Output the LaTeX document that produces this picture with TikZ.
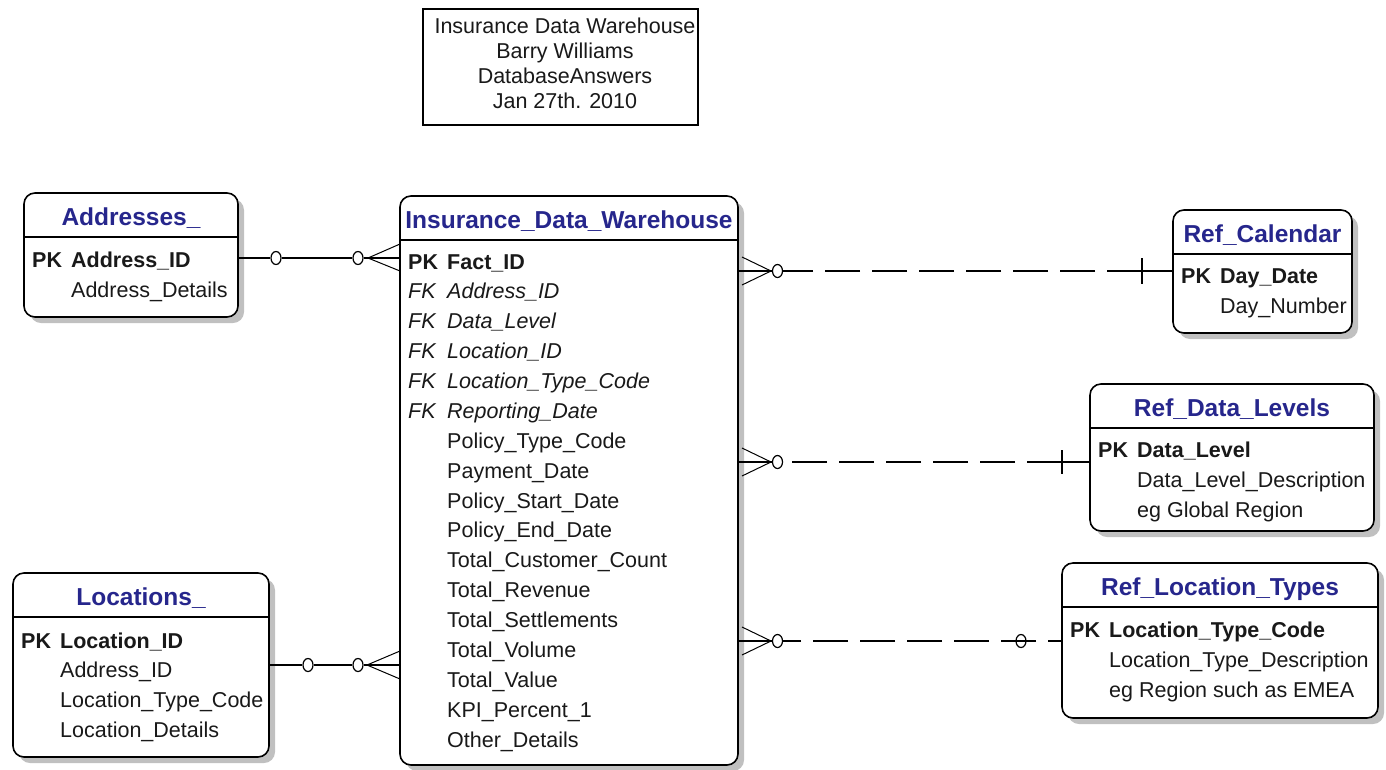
\documentclass[tikz,border=0pt]{standalone}
\usepackage{fontspec}
\setmainfont{Liberation Sans}
\usetikzlibrary{shadows,shapes.geometric,calc}
\definecolor{ttlc}{RGB}{38,38,140}
\definecolor{txtc}{RGB}{25,25,25}
\definecolor{shc}{RGB}{192,192,192}
\newcommand\fs{\fontsize{21.5}{25}\selectfont}
\newcommand\erbox[6]{%
  \node[entbox, minimum width={(#3-#2)*1pt}, minimum height={(#5-#4)*1pt}] (#1) at ({(#2+#3)/2},{(#4+#5)/2}) {};
  \draw[sepline] (#2,{#4+44}) -- (#3,{#4+44});
  \node[ttl] (#1-title) at ({(#2+#3)/2},{#4+32}) {#6};}
\newcommand\erkey[5]{\node[#5] (#1) at ({#2+8},{#3+8}) {#4};}
\newcommand\erfld[5]{\node[#5] (#1) at ({#2+47},{#3+8}) {#4};}
\begin{document}
\begin{tikzpicture}[x=1pt,y=-1pt,
  entbox/.style={draw=black, line width=1.6pt, rounded corners=11pt, fill=white, inner sep=0pt, outer sep=0pt,
     drop shadow={shadow xshift=6pt, shadow yshift=-6pt, fill=shc, opacity=1}},
  sepline/.style={line width=1.6pt},
  ttl/.style={anchor=base, inner sep=0pt, text=ttlc, font=\fontsize{24.5}{28}\selectfont\bfseries},
  fld/.style={anchor=base west, inner sep=0pt, text=txtc},
  fr/.style={fld, font=\fs},
  fb/.style={fld, font=\fs\bfseries},
  fi/.style={fld, font=\fs\itshape},
  rel/.style={line width=1.3pt},
  dashrel/.style={line width=1.3pt, dash pattern=on 35pt off 12pt},
  prong/.style={line width=1pt},
  ring/.style={ellipse, draw, line width=1.2pt, fill=white, minimum width=10pt, minimum height=13pt, inner sep=0pt},
  hring/.style={ring, fill=none},
]
\useasboundingbox (0,0) rectangle (1386,769);
\fill[white] (0,0) rectangle (1386,769);

% title box
\node[draw=black, line width=1.5pt, minimum width=275pt, minimum height=116pt, inner sep=0pt] (hdr) at (560.5,67) {};
\node[align=center, inner sep=0pt, text=txtc, font=\fs] (hdrtxt) at (565,63.5)
  {Insurance Data Warehouse\\Barry Williams\\DatabaseAnswers\\Jan 27th. 2010};

% Addresses_
\erbox{addr}{24}{238}{193}{317}{Addresses\_}
\erkey{addr-k}{24}{259}{PK}{fb}
\erfld{addr-pk}{24}{259}{Address\_ID}{fb}
\erfld{addr-f1}{24}{289}{Address\_Details}{fr}

% Insurance_Data_Warehouse
\erbox{idw}{400}{738}{196}{765}{Insurance\_Data\_Warehouse}
\erkey{idw-k0}{400}{261}{PK}{fb}
\erfld{idw-r0}{400}{261}{Fact\_ID}{fb}
\foreach \t [count=\i] in {Address\_ID,Data\_Level,Location\_ID,Location\_Type\_Code,Reporting\_Date}{
  \erkey{idw-k\i}{400}{261+29.875*\i}{FK}{fi}
  \erfld{idw-r\i}{400}{261+29.875*\i}{\t}{fi}
}
\foreach \t [count=\i from 6] in {Policy\_Type\_Code,Payment\_Date,Policy\_Start\_Date,Policy\_End\_Date,Total\_Customer\_Count,Total\_Revenue,Total\_Settlements,Total\_Volume,Total\_Value,KPI\_Percent\_1,Other\_Details}{
  \erfld{idw-r\i}{400}{261+29.875*\i}{\t}{fr}
}

% Ref_Calendar
\erbox{cal}{1173}{1352}{210}{333}{Ref\_Calendar}
\erkey{cal-k}{1173}{275}{PK}{fb}
\erfld{cal-pk}{1173}{275}{Day\_Date}{fb}
\erfld{cal-f1}{1173}{305}{Day\_Number}{fr}

% Ref_Data_Levels
\erbox{dl}{1090}{1374}{384}{531}{Ref\_Data\_Levels}
\erkey{dl-k}{1090}{449}{PK}{fb}
\erfld{dl-pk}{1090}{449}{Data\_Level}{fb}
\erfld{dl-f1}{1090}{479}{Data\_Level\_Description}{fr}
\erfld{dl-f2}{1090}{509}{eg Global Region}{fr}

% Ref_Location_Types
\erbox{lt}{1062}{1378}{563}{718}{Ref\_Location\_Types}
\erkey{lt-k}{1062}{629}{PK}{fb}
\erfld{lt-pk}{1062}{629}{Location\_Type\_Code}{fb}
\erfld{lt-f1}{1062}{659}{Location\_Type\_Description}{fr}
\erfld{lt-f2}{1062}{689}{eg Region such as EMEA}{fr}

% Locations_
\erbox{loc}{13}{269}{573}{757}{Locations\_}
\erkey{loc-k}{13}{640}{PK}{fb}
\erfld{loc-pk}{13}{640}{Location\_ID}{fb}
\erfld{loc-f1}{13}{669}{Address\_ID}{fr}
\erfld{loc-f2}{13}{699}{Location\_Type\_Code}{fr}
\erfld{loc-f3}{13}{729}{Location\_Details}{fr}

% ---- Addresses_ -> IDW
\coordinate (yA) at (0,258);
\node[ring] (rA1) at (276,258) {};
\node[ring] (rA2) at (358,258) {};
\coordinate (fA) at (368,258);
\draw[rel] (addr.east |- yA) -- (rA1);
\draw[rel] (rA1) -- (rA2);
\draw[rel] (rA2) -- (idw.west |- yA);
\draw[prong] ($(idw.west |- yA)+(0,-14)$) -- (fA) -- ($(idw.west |- yA)+(0,13)$);

% ---- Locations_ -> IDW
\coordinate (yB) at (0,665);
\node[ring] (rB1) at (308,665) {};
\node[ring] (rB2) at (358,665) {};
\coordinate (fB) at (367,665);
\draw[rel] (loc.east |- yB) -- (rB1);
\draw[rel] (rB1) -- (rB2);
\draw[rel] (rB2) -- (idw.west |- yB);
\draw[prong] ($(idw.west |- yB)+(0,-14)$) -- (fB) -- ($(idw.west |- yB)+(0,14)$);

% ---- IDW -> Ref_Calendar
\coordinate (yC) at (0,271);
\node[ring] (rC) at (777.5,271) {};
\coordinate (fC) at (771,271);
\coordinate (bC) at (1142,271);
\draw[rel] (idw.east |- yC) -- (rC);
\draw[prong] ($(idw.east |- yC)+(4,-14)$) -- (fC) -- ($(idw.east |- yC)+(4,14)$);
\draw[dashrel] (bC) -- (rC);
\draw[rel] (bC) -- (cal.west |- yC);
\draw[rel] ($(bC)+(0,-13)$) -- ($(bC)+(0,13)$);

% ---- IDW -> Ref_Data_Levels
\coordinate (yD) at (0,462);
\node[ring] (rD) at (777.5,462) {};
\coordinate (fD) at (771,462);
\coordinate (bD) at (1062,462);
\draw[rel] (idw.east |- yD) -- (rD);
\draw[prong] ($(idw.east |- yD)+(4,-14)$) -- (fD) -- ($(idw.east |- yD)+(4,14)$);
\draw[dashrel] (bD) -- (rD);
\draw[rel] (bD) -- (dl.west |- yD);
\draw[rel] ($(bD)+(0,-12)$) -- ($(bD)+(0,12)$);

% ---- IDW -> Ref_Location_Types
\coordinate (yE) at (0,641);
\node[ring] (rE) at (777.5,641) {};
\coordinate (fE) at (771,641);
\draw[rel] (idw.east |- yE) -- (rE);
\draw[prong] ($(idw.east |- yE)+(4,-14)$) -- (fE) -- ($(idw.east |- yE)+(4,14)$);
\draw[dashrel, dash phase=21pt] (lt.west |- yE) -- (rE);
\node[hring] (rE2) at (1021,641) {};
\end{tikzpicture}
\end{document}
